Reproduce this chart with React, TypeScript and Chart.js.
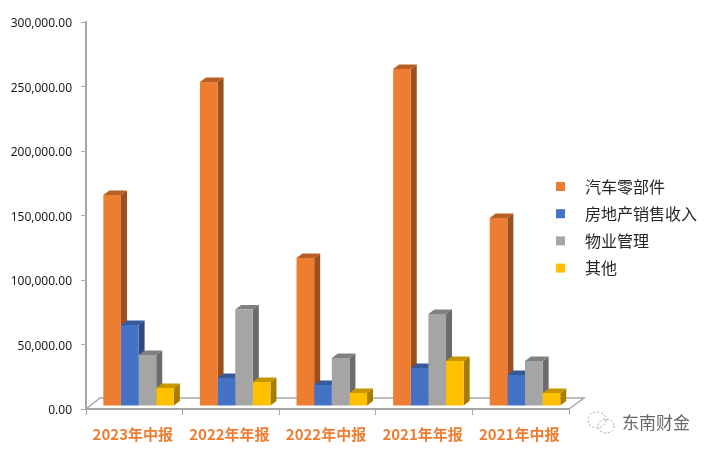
import React, { useEffect, useRef } from "react";
import { Chart, registerables } from "chart.js";

Chart.register(...registerables);

const categories = ["2023年中报", "2022年年报", "2022年中报", "2021年年报", "2021年中报"];
const autoParts = [163600, 251200, 114700, 261200, 145700];
const realEstate = [62800, 21700, 16300, 29500, 24000];
const propertyMgmt = [39500, 74800, 37200, 71300, 34900];
const others = [14000, 18600, 10100, 34900, 10100];
const seriesNames = ["汽车零部件", "房地产销售收入", "物业管理", "其他"];
const frontColors = ["#ED7D31", "#4472C4", "#A5A5A5", "#FFC000"];
const sideColors = ["#9A501F", "#2C4A80", "#6B6B6B", "#A67D00"];
const topColors = ["#B85F24", "#355A99", "#808080", "#C79600"];
const axisColor = "#A6A6A6";
const cjk = '"Noto Sans CJK SC", "Noto Sans", sans-serif';

const DX = 6;
const DY = 4.5;
const SHIFT_X = 4.3;
const SHIFT_Y = -3;

const depthPlugin = {
  id: "depth",
  beforeDatasetsDraw(chart: any) {
    const { ctx, chartArea: a } = chart;
    // floor outline
    ctx.save();
    ctx.strokeStyle = axisColor;
    ctx.lineWidth = 1.5;
    ctx.beginPath();
    ctx.moveTo(a.left, a.bottom);
    ctx.lineTo(a.left + 14, a.bottom - 11);
    ctx.lineTo(a.right + 15, a.bottom - 11);
    ctx.lineTo(a.right, a.bottom);
    ctx.stroke();
    ctx.restore();

    ctx.save();
    ctx.translate(SHIFT_X, SHIFT_Y);
    chart.data.datasets.forEach((_: any, d: number) => {
      chart.getDatasetMeta(d).data.forEach((bar: any) => {
        const { x, y, width, base } = bar.getProps(["x", "y", "width", "base"], true);
        const l = x - width / 2;
        const r = x + width / 2;
        ctx.fillStyle = sideColors[d];
        ctx.beginPath();
        ctx.moveTo(r, y);
        ctx.lineTo(r + DX, y - DY);
        ctx.lineTo(r + DX, base - DY);
        ctx.lineTo(r, base);
        ctx.closePath();
        ctx.fill();
        ctx.fillStyle = topColors[d];
        ctx.beginPath();
        ctx.moveTo(l, y);
        ctx.lineTo(l + DX, y - DY);
        ctx.lineTo(r + DX, y - DY);
        ctx.lineTo(r, y);
        ctx.closePath();
        ctx.fill();
      });
    });
    ctx.restore();

    ctx.save();
    ctx.translate(SHIFT_X, SHIFT_Y);
  },
  afterDatasetsDraw(chart: any) {
    chart.ctx.restore();
  },
};

const legendPlugin = {
  id: "sideLegend",
  afterDraw(chart: any) {
    const { ctx } = chart;
    ctx.save();
    ctx.textBaseline = "middle";
    ctx.textAlign = "left";
    ctx.font = `16px ${cjk}`;
    chart.data.datasets.forEach((ds: any, i: number) => {
      const cy = 186.5 + i * 27.2;
      ctx.fillStyle = ds.backgroundColor;
      ctx.fillRect(556, cy - 4.5, 9, 9);
      ctx.fillStyle = "#262626";
      ctx.fillText(ds.label, 585, cy);
    });
    ctx.restore();
  },
};

const watermarkPlugin = {
  id: "watermark",
  afterDraw(chart: any) {
    const { ctx } = chart;
    ctx.save();
    ctx.strokeStyle = "#A0A0A0";
    ctx.lineWidth = 1;
    ctx.setLineDash([2, 2]);
    ctx.beginPath();
    ctx.ellipse(597, 420, 9, 8, 0, 0, Math.PI * 2);
    ctx.stroke();
    ctx.beginPath();
    ctx.ellipse(606, 426, 8, 7, 0, 0, Math.PI * 2);
    ctx.stroke();
    ctx.setLineDash([]);
    ctx.fillStyle = "#666666";
    ctx.font = `17px ${cjk}`;
    ctx.textAlign = "left";
    ctx.textBaseline = "middle";
    ctx.fillText("东南财金", 622, 423);
    ctx.restore();
  },
};

export default function App() {
  const ref = useRef<HTMLCanvasElement>(null);
  useEffect(() => {
    document.body.style.margin = "0";
    const values = [autoParts, realEstate, propertyMgmt, others];
    const chart = new Chart(ref.current!, {
      type: "bar",
      data: {
        labels: categories,
        datasets: values.map((data, i) => ({
          label: seriesNames[i],
          data,
          backgroundColor: frontColors[i],
          borderWidth: 0,
          categoryPercentage: 0.73,
          barPercentage: 1,
        })),
      },
      options: {
        responsive: false,
        animation: false,
        layout: { padding: { left: 0, right: 142, top: 22, bottom: 0 } },
        plugins: { legend: { display: false }, tooltip: { enabled: false }, title: { display: false } },
        scales: {
          x: {
            afterFit: (s: any) => { s.height = 45; },
            border: { color: axisColor, width: 2 },
            grid: { drawOnChartArea: false, tickLength: 6, tickColor: axisColor, tickWidth: 1 },
            ticks: { color: "#ED7D31", font: { family: cjk, size: 15, weight: "bold" }, padding: 10, maxRotation: 0, labelOffset: -1.5 },
          },
          y: {
            min: 0,
            max: 300000,
            afterFit: (s: any) => { s.width = 86; },
            border: { color: axisColor, width: 2 },
            grid: { drawOnChartArea: false, tickLength: 5, tickColor: axisColor, tickWidth: 1 },
            ticks: {
              stepSize: 50000,
              color: "#1A1A1A",
              padding: 9,
              labelOffset: 2,
              font: { family: '"Noto Sans", sans-serif', size: 12 },
              callback: (v: any) => Number(v).toLocaleString("en-US", { minimumFractionDigits: 2, maximumFractionDigits: 2 }),
            },
          },
        },
      } as any,
      plugins: [depthPlugin, legendPlugin, watermarkPlugin],
    });
    return () => chart.destroy();
  }, []);
  return <canvas ref={ref} width={711} height={454} style={{ display: "block" }} />;
}
